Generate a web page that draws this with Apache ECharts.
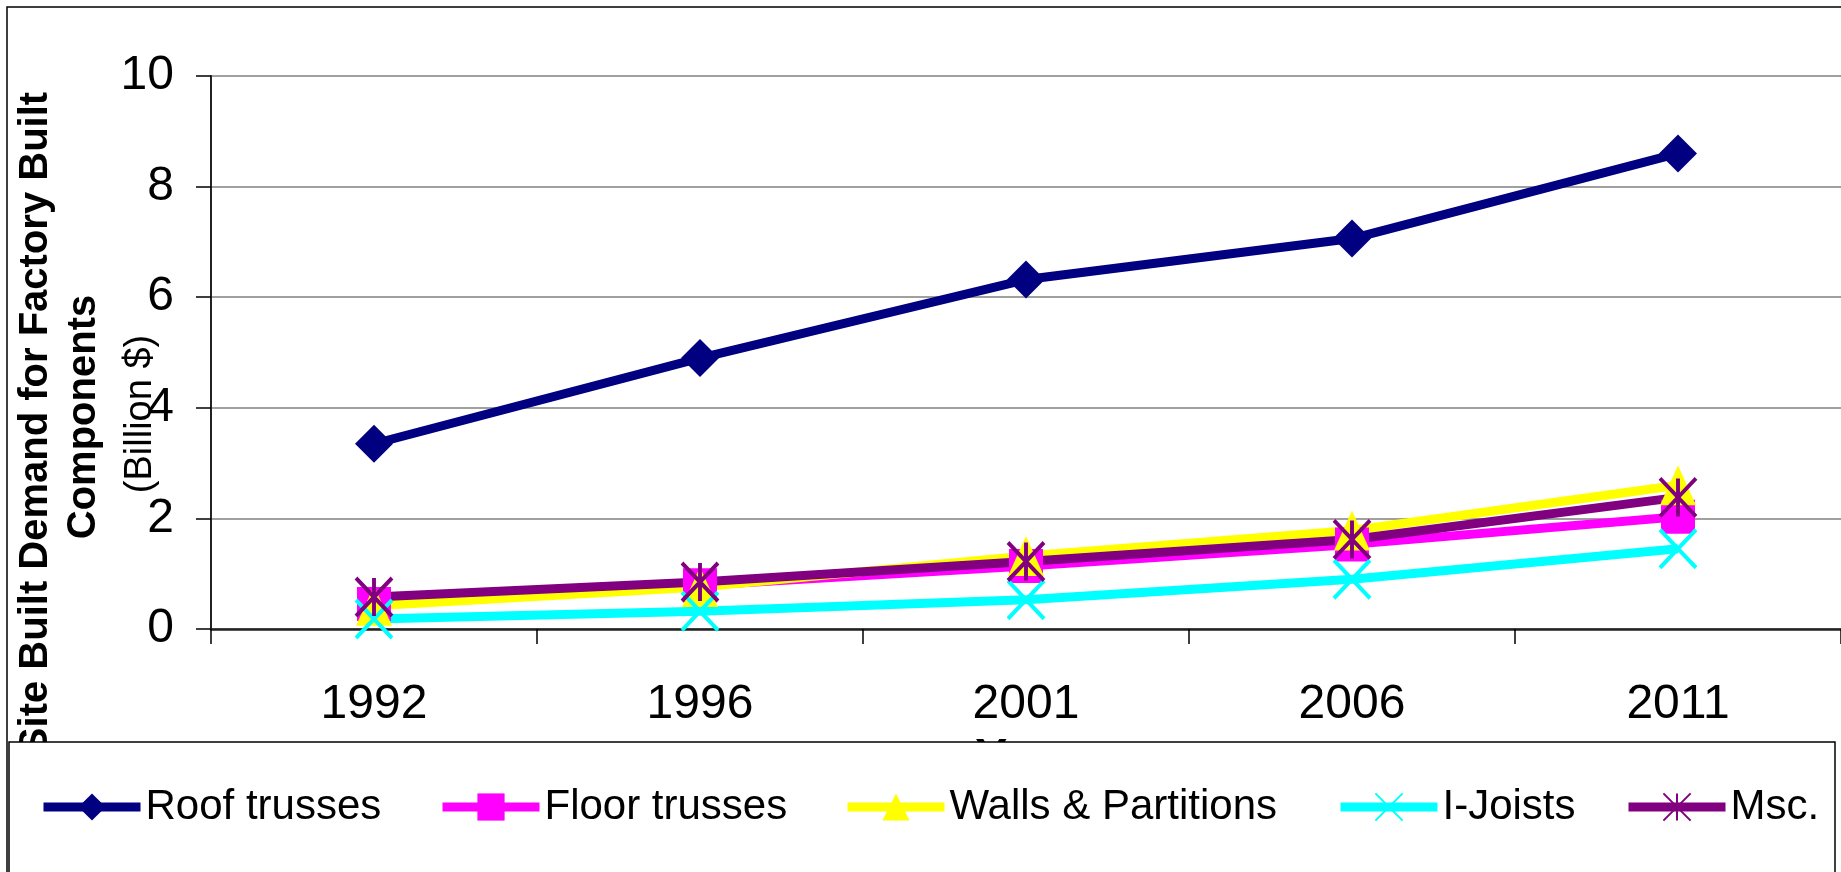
<!DOCTYPE html>
<html>
<head>
<meta charset="utf-8">
<title>Site Built Demand for Factory Built Components</title>
<script src="https://cdn.jsdelivr.net/npm/echarts@6/dist/echarts.min.js"></script>
<style>
  html, body { margin: 0; padding: 0; background: #fff; }
  #chart { width: 1841px; height: 872px; }
</style>
</head>
<body>
<div id="chart"></div>
<script>
  // data
  const years = ['1992', '1996', '2001', '2006', '2011'];
  const roofTrusses = [3.35, 4.9, 6.32, 7.06, 8.6];
  const floorTrusses = [0.45, 0.79, 1.14, 1.53, 2.03];
  const wallsPartitions = [0.42, 0.76, 1.32, 1.78, 2.6];
  const iJoists = [0.18, 0.32, 0.53, 0.9, 1.45];
  const msc = [0.58, 0.85, 1.22, 1.62, 2.38];
  const seriesNames = ['Roof trusses', 'Floor trusses', 'Walls & Partitions', 'I-Joists', 'Msc.'];

  const FONT = '"Liberation Sans", Arial, sans-serif';
  const X_PATH = 'path://M0,0L10,10M10,0L0,10';
  const STAR_PATH = 'path://M0,0L10,10M10,0L0,10M5,0L5,10';

  let myChart = echarts.init(document.getElementById('chart'));

  function lineSeries(name, data, color, symbol, size, stroke) {
    return {
      name: name,
      type: 'line',
      data: data,
      symbol: symbol,
      symbolSize: size,
      showAllSymbol: true,
      lineStyle: { color: color, width: 9 },
      itemStyle: stroke
        ? { color: color, borderColor: color, borderWidth: 4 }
        : { color: color },
      emphasis: { disabled: true }
    };
  }

  const legendLeft = [39, 438, 843, 1336, 1624];

  let option = {
    animation: false,
    grid: { left: 211, top: 76, right: -14, bottom: 243 },
    xAxis: {
      type: 'category',
      data: years,
      boundaryGap: true,
      name: 'Year',
      nameLocation: 'middle',
      nameGap: 106,
      nameTextStyle: { fontFamily: FONT, fontSize: 48, fontWeight: 'bold', color: '#000' },
      axisLine: { lineStyle: { color: '#222', width: 2.5 } },
      axisTick: { show: true, length: 15, lineStyle: { color: '#000', width: 1.5 } },
      axisLabel: { fontFamily: FONT, fontSize: 48, color: '#000', margin: 52 },
      splitLine: { show: false }
    },
    yAxis: {
      type: 'value',
      min: 0,
      max: 10,
      interval: 2,
      axisLine: { show: true, lineStyle: { color: '#222', width: 2 } },
      axisTick: { show: true, length: 15, lineStyle: { color: '#000', width: 1.5 } },
      axisLabel: { fontFamily: FONT, fontSize: 48, color: '#000', margin: 37 },
      splitLine: { lineStyle: { color: '#808080', width: 1.5 } }
    },
    legend: seriesNames.map((name, i) => ({
      data: [name],
      left: legendLeft[i],
      top: 786,
      padding: 0,
      itemWidth: 97,
      itemHeight: 34,
      selectedMode: false,
      lineStyle: { width: 9 },
      textStyle: { fontFamily: FONT, fontSize: 42, color: '#000' },
      z: 200
    })),
    graphic: [
      {
        type: 'rect',
        z: 100,
        shape: { x: 7, y: 7, width: 1900, height: 950 },
        style: { fill: 'none', stroke: '#000', lineWidth: 1.5 }
      },
      {
        type: 'rect',
        z: 150,
        shape: { x: 9, y: 742, width: 1826, height: 200 },
        style: { fill: '#fff', stroke: '#000', lineWidth: 1.5 }
      },
      {
        type: 'text', x: 36, y: 423, rotation: Math.PI / 2, z: 100,
        style: {
          text: 'Site Built Demand for Factory Built',
          font: 'bold 40px ' + FONT, fill: '#000',
          align: 'center', verticalAlign: 'middle',
          textAlign: 'center', textVerticalAlign: 'middle'
        }
      },
      {
        type: 'text', x: 84, y: 417, rotation: Math.PI / 2, z: 100,
        style: {
          text: 'Components',
          font: 'bold 40px ' + FONT, fill: '#000',
          align: 'center', verticalAlign: 'middle',
          textAlign: 'center', textVerticalAlign: 'middle'
        }
      },
      {
        type: 'text', x: 141, y: 414, rotation: Math.PI / 2, z: 100,
        style: {
          text: '(Billion $)',
          font: '38px ' + FONT, fill: '#000',
          align: 'center', verticalAlign: 'middle',
          textAlign: 'center', textVerticalAlign: 'middle'
        }
      }
    ],
    series: [
      lineSeries(seriesNames[0], roofTrusses, '#000080', 'diamond', 38, false),
      lineSeries(seriesNames[1], floorTrusses, '#FF00FF', 'rect', 34, false),
      lineSeries(seriesNames[2], wallsPartitions, '#FFFF00', 'triangle', [36, 40], false),
      lineSeries(seriesNames[3], iJoists, '#00FFFF', X_PATH, [36, 38], true),
      lineSeries(seriesNames[4], msc, '#800080', STAR_PATH, [36, 38], true)
    ]
  };

  myChart.setOption(option);
</script>
</body>
</html>
